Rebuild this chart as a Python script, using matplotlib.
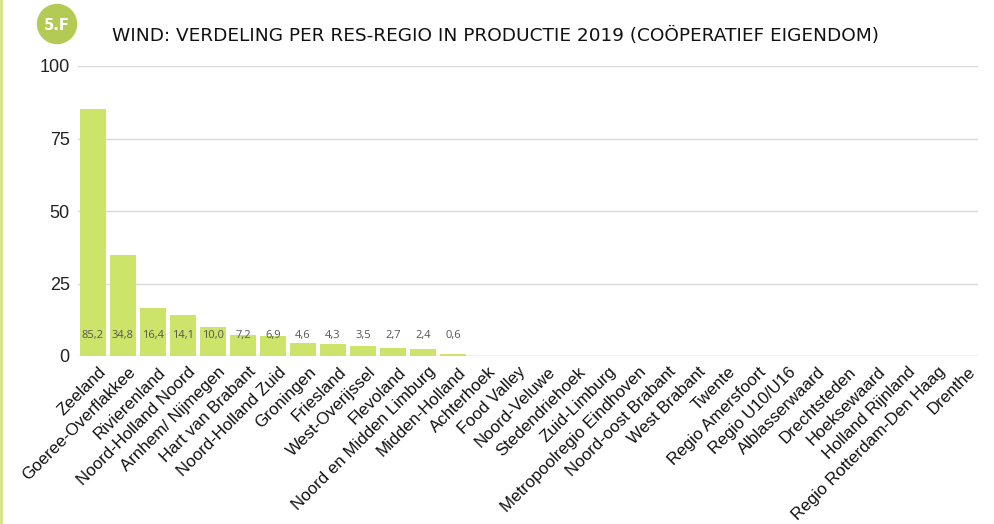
import matplotlib
matplotlib.use("Agg")
import matplotlib.pyplot as plt
from matplotlib.patches import Circle
from matplotlib.transforms import ScaledTranslation

categories = ["Zeeland", "Goeree-Overflakkee", "Rivierenland", "Noord-Holland Noord",
              "Arnhem/ Nijmegen", "Hart van Brabant", "Noord-Holland Zuid", "Groningen",
              "Friesland", "West-Overijssel", "Flevoland", "Noord en Midden Limburg",
              "Midden-Holland", "Achterhoek", "Food Valley", "Noord-Veluwe",
              "Stedendriehoek", "Zuid-Limburg", "Metropoolregio Eindhoven",
              "Noord-oost Brabant", "West Brabant", "Twente", "Regio Amersfoort",
              "Regio U10/U16", "Alblasserwaard", "Drechtsteden", "Hoeksewaard",
              "Holland Rijnland", "Regio Rotterdam-Den Haag", "Drenthe"]
values = [85.2, 34.8, 16.4, 14.1, 10.0, 7.2, 6.9, 4.6, 4.3, 3.5, 2.7, 2.4, 0.6] + [0] * 17
value_labels = ["85,2", "34,8", "16,4", "14,1", "10,0", "7,2", "6,9", "4,6", "4,3",
                "3,5", "2,7", "2,4", "0,6"]
yticks = [0, 25, 50, 75, 100]

fig = plt.figure(figsize=(9.95, 5.24), dpi=100)
ax = fig.add_axes([78/995, 1 - 356/524, 900/995, 290/524])

x = list(range(len(categories)))
ax.bar(x, values, width=0.87, color="#cde46b", zorder=2)
for i, lab in enumerate(value_labels):
    ax.text(i, 7.2, lab, ha="center", va="center", fontsize=8,
            color="#555555", family="Open Sans", zorder=3)

ax.set_xlim(-0.5, len(categories) - 0.5)
ax.set_ylim(0, 100)
ax.set_yticks(yticks)
ax.set_yticklabels([str(t) for t in yticks], fontsize=13, family="Liberation Sans",
                   color="#222222")
ax.yaxis.grid(True, color="#d9d9d9", linewidth=1, zorder=0)
ax.tick_params(axis="y", length=0, pad=6)
ax.tick_params(axis="x", length=0, pad=6)
ax.set_xticks(x)
ax.set_xticklabels(categories, rotation=45, ha="right", rotation_mode="anchor",
                   fontsize=12.2, family="Liberation Sans", color="#111111")
offset = ScaledTranslation(5/100, 0, fig.dpi_scale_trans)
for lbl in ax.get_xticklabels():
    lbl.set_transform(lbl.get_transform() + offset)
for s in ax.spines.values():
    s.set_visible(False)
ax.axhline(0, color="#d9d9d9", linewidth=1, zorder=1)
ax.set_facecolor("white")

# left accent line
fig.add_artist(plt.Line2D([1/995, 1/995], [0, 1], color="#cde46b", linewidth=1.8,
                          transform=fig.transFigure))
# badge
badge_ax = fig.add_axes([0, 0, 1, 1], facecolor="none")
badge_ax.set_xlim(0, 995)
badge_ax.set_ylim(524, 0)
badge_ax.axis("off")
badge_ax.add_patch(Circle((57, 24), 19.5, color="#b3cb55"))
badge_ax.text(57, 25, "5.F", ha="center", va="center", color="white",
              fontsize=10.5, fontweight="bold", family="DejaVu Sans")
badge_ax.text(112, 36, "WIND: VERDELING PER RES-REGIO IN PRODUCTIE 2019 (COÖPERATIEF EIGENDOM)",
              ha="left", va="center", fontsize=13.3, color="#111111", family="DejaVu Sans")

fig.savefig("out.png", dpi=100, facecolor="white")
